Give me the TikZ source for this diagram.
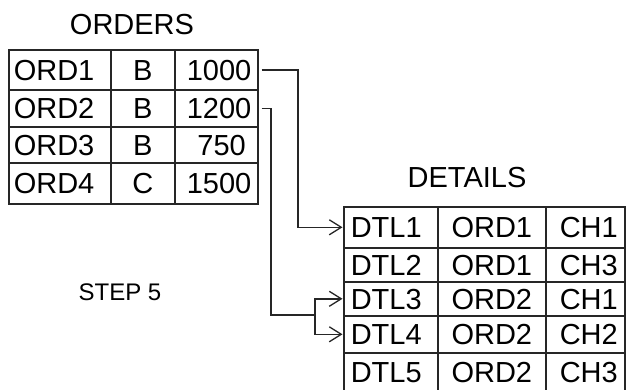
\documentclass[tikz,border=0pt]{standalone}
\usepackage{fontspec}
\setmainfont{Liberation Sans}
\usetikzlibrary{arrows.meta}
\tikzset{
  cell/.style={draw=black!85, line width=1.6pt, anchor=north west, inner ysep=0pt,
    text height=21pt, text depth=0pt, font=\fontsize{29}{30}\selectfont},
  title/.style={font=\fontsize{29}{30}\selectfont, inner sep=0pt},
  conn/.style={draw=black!85, line width=1.4pt},
  tip/.style={-{Straight Barb[length=12pt,width=15pt,line width=1.3pt]}, shorten >=0.5pt}
}
% name, x, y, width, height, align, pad, text
\newcommand\mycell[8]{%
  \node[cell, inner xsep=#7pt, text width=#4pt-2*#7pt, minimum width=#4pt,
        minimum height=#5pt, align=#6] (#1) at (#2,#3) {#8};}
\begin{document}
\begin{tikzpicture}[x=1pt,y=-1pt]
\useasboundingbox (0,0) rectangle (626,389);
\fill[white] (0,0) rectangle (626,389);
% ORDERS
\node[title] (ot) at (132,25) {ORDERS};
\mycell{o11}{8}{49}{102}{40}{left}{5}{ORD1}
\mycell{o12}{110}{49}{64}{40}{center}{0}{B}
\mycell{o13}{174}{49}{83}{40}{right}{12}{1000}
\mycell{o21}{8}{89}{102}{37}{left}{5}{ORD2}
\mycell{o22}{110}{89}{64}{37}{center}{0}{B}
\mycell{o23}{174}{89}{83}{37}{right}{12}{1200}
\mycell{o31}{8}{126}{102}{36}{left}{5}{ORD3}
\mycell{o32}{110}{126}{64}{36}{center}{0}{B}
\mycell{o33}{174}{126}{83}{36}{right}{12}{750}
\mycell{o41}{8}{162}{102}{41}{left}{5}{ORD4}
\mycell{o42}{110}{162}{64}{41}{center}{0}{C}
\mycell{o43}{174}{162}{83}{41}{right}{12}{1500}
% DETAILS
\node[title] (dt) at (467,178) {DETAILS};
\mycell{d11}{343}{206}{94}{41}{left}{7}{DTL1}
\mycell{d12}{437}{206}{108}{41}{center}{0}{ORD1}
\mycell{d13}{545}{206}{79}{41}{right}{7}{CH1}
\mycell{d21}{343}{247}{94}{34}{left}{7}{DTL2}
\mycell{d22}{437}{247}{108}{34}{center}{0}{ORD1}
\mycell{d23}{545}{247}{79}{34}{right}{7}{CH3}
\mycell{d31}{343}{281}{94}{34}{left}{7}{DTL3}
\mycell{d32}{437}{281}{108}{34}{center}{0}{ORD2}
\mycell{d33}{545}{281}{79}{34}{right}{7}{CH1}
\mycell{d41}{343}{315}{94}{37}{left}{7}{DTL4}
\mycell{d42}{437}{315}{108}{37}{center}{0}{ORD2}
\mycell{d43}{545}{315}{79}{37}{right}{7}{CH2}
\mycell{d51}{343}{352}{94}{38}{left}{7}{DTL5}
\mycell{d52}{437}{352}{108}{38}{center}{0}{ORD2}
\mycell{d53}{545}{352}{79}{38}{right}{7}{CH3}
% label
\node[inner sep=0pt, font=\fontsize{24}{25}\selectfont] (step) at (120,292) {STEP 5};
% connectors
\coordinate (b1) at (298,0);
\coordinate (b2) at (271,0);
\coordinate (f) at (315,315);
\draw[conn,tip] ([xshift=3pt]o13.east) -| (b1 |- d11.west) -- (d11.west);
\draw[conn] ([xshift=3pt]o23.east) -| (b2 |- f) -- (f);
\draw[conn,tip] (f) |- (d31.west);
\draw[conn,tip] (f) |- (d41.west);
\end{tikzpicture}
\end{document}
